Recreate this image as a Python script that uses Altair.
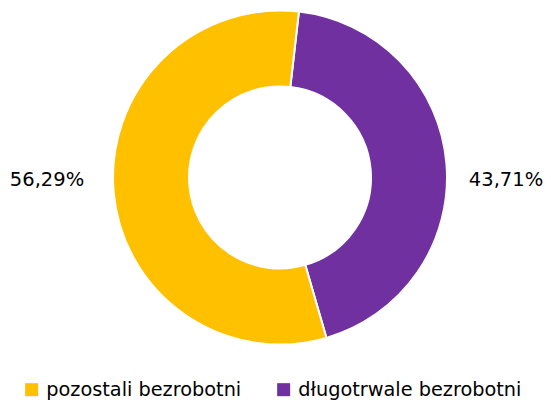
import altair as alt
import pandas as pd
import math

categories = ["długotrwale bezrobotni", "pozostali bezrobotni"]
values = [43.71, 56.29]
labels = ["43,71%", "56,29%"]
order = [0, 1]

df = pd.DataFrame({"cat": categories, "val": values, "label": labels, "ord": order})

start = math.radians(6.5)
text_start = math.radians(90 - 43.71 / 100 * 180)

color = alt.Color(
    "cat:N",
    scale=alt.Scale(domain=["pozostali bezrobotni", "długotrwale bezrobotni"],
                    range=["#FFC000", "#7030A0"]),
    legend=alt.Legend(title=None, orient="none", legendX=5, legendY=372,
                      direction="horizontal", padding=0,
                      symbolType="square", symbolSize=169, symbolStrokeWidth=0,
                      labelFont="DejaVu Sans", labelFontSize=19.3, labelColor="#000000",
                      labelOffset=5, columnPadding=32, labelLimit=400),
)

base = alt.Chart(df)

arcs = base.mark_arc(outerRadius=167, innerRadius=91, stroke="white", strokeWidth=2).encode(
    theta=alt.Theta("val:Q", stack=True, scale=alt.Scale(range=[start, start + 2 * math.pi])),
    color=color,
    order=alt.Order("ord:Q"),
)

text_base = base.transform_window(
    cum="sum(val)", sort=[alt.SortField("ord")]
).transform_joinaggregate(
    total="sum(val)"
).transform_calculate(
    frac="(datum.cum - datum.val / 2) / datum.total"
)

theta_text = alt.Theta("frac:Q", scale=alt.Scale(domain=[0, 1],
                                                 range=[text_start, text_start + 2 * math.pi]))

text_right = text_base.transform_filter(alt.datum.ord == 0).mark_text(
    radius=226, dy=2, font="DejaVu Sans", fontSize=19.5, color="#000000",
    baseline="middle", align="center").encode(theta=theta_text, text="label:N")

text_left = text_base.transform_filter(alt.datum.ord == 1).mark_text(
    radius=233, dy=2, font="DejaVu Sans", fontSize=19.5, color="#000000",
    baseline="middle", align="center").encode(theta=theta_text, text="label:N")

chart = alt.layer(arcs, text_right, text_left).resolve_scale(theta="independent").properties(
    width=526, height=339,
    padding={"left": 9, "top": 0, "right": 0, "bottom": 53},
    autosize=alt.AutoSizeParams(type="none"),
).configure_view(stroke=None)

chart.save("out.html", embed_options={"renderer": "svg", "actions": False})
